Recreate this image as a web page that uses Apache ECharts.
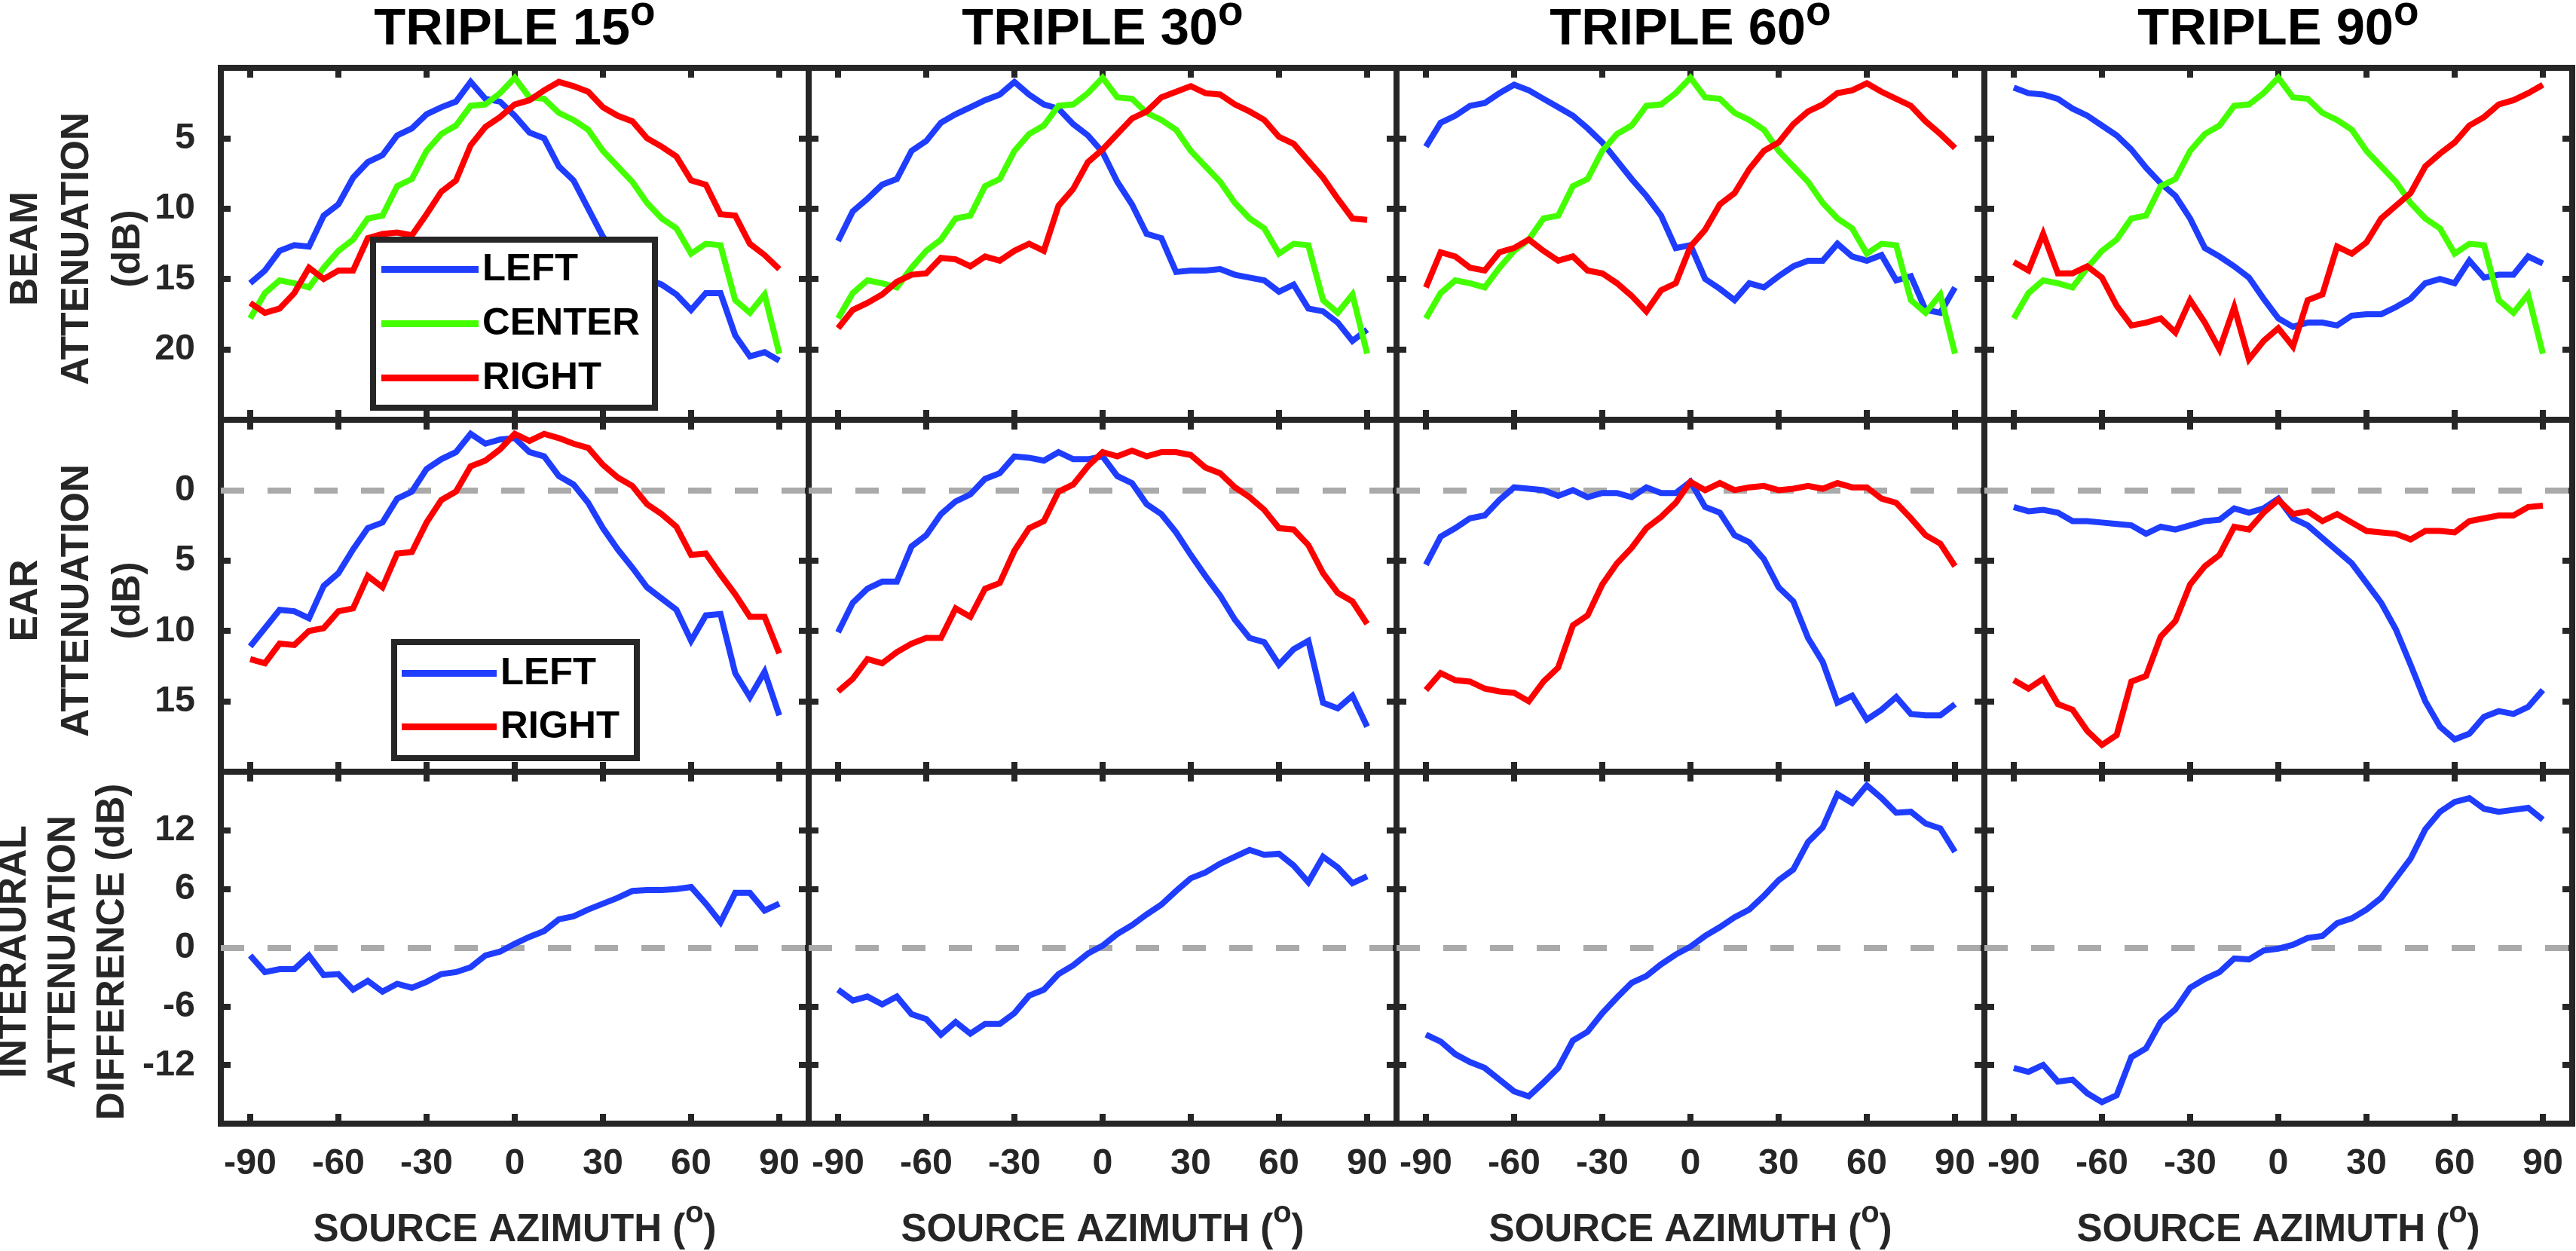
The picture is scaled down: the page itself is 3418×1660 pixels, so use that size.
<!DOCTYPE html>
<html>
<head>
<meta charset="utf-8">
<title>Triple beam attenuation</title>
<script src="https://cdn.jsdelivr.net/npm/echarts@6/dist/echarts.min.js"></script>
<style>
  html, body { margin: 0; padding: 0; background: #fff; }
  #chart { width: 3418px; height: 1660px; }
</style>
</head>
<body>
<div id="chart"></div>
<script>
// source azimuth (deg), one value every 5 deg
const azimuth = [-90, -85, -80, -75, -70, -65, -60, -55, -50, -45, -40, -35, -30, -25, -20, -15, -10, -5, 0,
  5, 10, 15, 20, 25, 30, 35, 40, 45, 50, 55, 60, 65, 70, 75, 80, 85, 90];
const azimuthTicks = [-90, -60, -30, 0, 30, 60, 90];
const beamTicks = [5, 10, 15, 20];
const earTicks = [0, 5, 10, 15];
const iadTicks = [-12, -6, 0, 6, 12];
const spacings = ['15', '30', '60', '90'];

// beam attenuation (dB), center beam is the same in every panel
const centerBeam = [17.8, 16.0, 15.1, 15.3, 15.6, 14.2, 13.0, 12.2, 10.7, 10.5, 8.4, 7.9, 5.9, 4.7, 4.1, 2.7, 2.6, 1.8, 0.7,
  2.1, 2.2, 3.2, 3.7, 4.4, 5.9, 7.0, 8.1, 9.6, 10.7, 11.4, 13.2, 12.5, 12.6, 16.5, 17.4, 16.1, 20.3];

const beamLeft15 = [15.3, 14.4, 13.0, 12.6, 12.7, 10.5, 9.7, 7.8, 6.7, 6.2, 4.8, 4.3, 3.3, 2.8, 2.4, 1.0, 2.2, 2.4, 3.4,
  4.6, 5.0, 7.0, 8.0, 10.0, 12.0, 13.2, 14.2, 15.0, 15.4, 16.1, 17.2, 16.0, 16.0, 19.0, 20.5, 20.2, 20.8];
const beamRight15 = [16.7, 17.4, 17.1, 16.0, 14.2, 15.0, 14.4, 14.4, 12.1, 11.8, 11.7, 11.9, 10.4, 8.8, 8.0, 5.5, 4.2, 3.5, 2.6,
  2.3, 1.6, 1.0, 1.3, 1.7, 2.8, 3.4, 3.8, 5.0, 5.6, 6.3, 8.0, 8.3, 10.4, 10.5, 12.5, 13.3, 14.3];
const beamLeft30 = [12.3, 10.2, 9.3, 8.3, 7.9, 5.9, 5.2, 3.9, 3.3, 2.8, 2.3, 1.9, 1.0, 1.9, 2.6, 2.9, 4.0, 4.8, 6.0,
  8.1, 9.7, 11.8, 12.1, 14.5, 14.4, 14.4, 14.3, 14.7, 14.9, 15.1, 15.9, 15.4, 17.1, 17.3, 18.1, 19.4, 18.6];
const beamRight30 = [18.5, 17.2, 16.7, 16.1, 15.2, 14.7, 14.6, 13.5, 13.6, 14.1, 13.4, 13.7, 13.0, 12.5, 13.0, 9.8, 8.6, 6.7, 5.8,
  4.7, 3.6, 3.1, 2.1, 1.7, 1.3, 1.8, 1.9, 2.6, 3.1, 3.7, 4.9, 5.4, 6.6, 7.8, 9.3, 10.7, 10.8];
const beamLeft60 = [5.6, 3.9, 3.4, 2.7, 2.5, 1.8, 1.2, 1.6, 2.2, 2.8, 3.4, 4.3, 5.3, 6.6, 7.9, 9.1, 10.5, 12.8, 12.6,
  15.0, 15.7, 16.5, 15.3, 15.6, 14.8, 14.1, 13.7, 13.7, 12.5, 13.4, 13.7, 13.3, 15.1, 14.8, 17.2, 17.4, 15.6];
const beamRight60 = [15.6, 13.1, 13.4, 14.2, 14.4, 13.1, 12.8, 12.2, 13.0, 13.7, 13.4, 14.4, 14.6, 15.3, 16.2, 17.3, 15.8, 15.3, 12.7,
  11.5, 9.7, 8.9, 7.2, 5.9, 5.3, 4.0, 3.1, 2.6, 1.8, 1.6, 1.1, 1.7, 2.2, 2.7, 3.8, 4.7, 5.7];
const beamLeft90 = [1.4, 1.8, 1.9, 2.2, 2.9, 3.4, 4.1, 4.8, 5.8, 7.1, 8.2, 9.1, 10.7, 12.8, 13.4, 14.1, 14.9, 16.4, 17.8,
  18.4, 18.1, 18.1, 18.3, 17.6, 17.5, 17.5, 17.0, 16.4, 15.3, 15.0, 15.3, 13.7, 14.9, 14.7, 14.7, 13.4, 13.9];
const beamRight90 = [13.8, 14.4, 11.8, 14.6, 14.6, 14.1, 14.9, 16.9, 18.3, 18.1, 17.8, 18.8, 16.5, 18.1, 20.0, 17.0, 20.7, 19.4, 18.5,
  19.8, 16.5, 16.1, 12.7, 13.2, 12.4, 10.7, 9.8, 8.9, 7.0, 6.1, 5.3, 4.1, 3.5, 2.6, 2.3, 1.8, 1.2];

// ear attenuation (dB)
const earLeft15 = [11.1, 9.8, 8.5, 8.6, 9.1, 6.8, 5.9, 4.2, 2.7, 2.3, 0.6, 0.1, -1.5, -2.2, -2.7, -4.0, -3.3, -3.6, -3.7,
  -2.7, -2.4, -1.0, -0.4, 0.9, 2.7, 4.2, 5.5, 6.9, 7.7, 8.5, 10.7, 8.9, 8.8, 13.0, 14.7, 12.9, 16.0];
const earRight15 = [12.0, 12.3, 10.9, 11.0, 10.0, 9.8, 8.6, 8.4, 6.1, 6.9, 4.5, 4.4, 2.3, 0.7, 0.1, -1.7, -2.1, -2.9, -4.0,
  -3.5, -4.0, -3.7, -3.3, -3.0, -1.8, -0.9, -0.3, 1.0, 1.7, 2.6, 4.6, 4.5, 6.0, 7.4, 9.0, 9.0, 11.6];
const earLeft30 = [10.1, 8.0, 7.0, 6.5, 6.5, 4.0, 3.2, 1.7, 0.8, 0.3, -0.8, -1.2, -2.4, -2.3, -2.1, -2.7, -2.2, -2.2, -2.4,
  -1.0, -0.5, 1.0, 1.7, 3.0, 4.6, 6.1, 7.5, 9.2, 10.5, 10.8, 12.4, 11.3, 10.7, 15.1, 15.5, 14.6, 16.8];
const earRight30 = [14.3, 13.4, 12.0, 12.3, 11.5, 10.9, 10.5, 10.5, 8.4, 9.0, 7.0, 6.6, 4.3, 2.7, 2.2, 0.1, -0.4, -1.7, -2.7,
  -2.4, -2.8, -2.4, -2.7, -2.7, -2.5, -1.6, -1.2, -0.2, 0.5, 1.4, 2.7, 2.8, 3.9, 5.9, 7.3, 7.9, 9.5];
const earLeft60 = [5.3, 3.3, 2.7, 2.0, 1.8, 0.7, -0.2, -0.1, 0.0, 0.4, 0.0, 0.5, 0.2, 0.2, 0.5, -0.2, 0.2, 0.2, -0.6,
  1.2, 1.6, 3.2, 3.7, 4.9, 6.9, 7.9, 10.5, 12.2, 15.1, 14.6, 16.3, 15.6, 14.7, 15.9, 16.0, 16.0, 15.2];
const earRight60 = [14.2, 13.0, 13.5, 13.6, 14.1, 14.3, 14.4, 15.0, 13.6, 12.6, 9.6, 8.9, 6.7, 5.2, 4.1, 2.7, 1.9, 0.9, -0.6,
  0.0, -0.5, 0.0, -0.2, -0.3, 0.0, -0.1, -0.3, -0.1, -0.5, -0.2, -0.2, 0.6, 0.9, 2.0, 3.2, 3.8, 5.4];
const earLeft90 = [1.2, 1.5, 1.4, 1.6, 2.2, 2.2, 2.3, 2.4, 2.5, 3.1, 2.6, 2.8, 2.5, 2.2, 2.1, 1.3, 1.6, 1.3, 0.6,
  2.0, 2.5, 3.4, 4.3, 5.2, 6.6, 8.0, 9.9, 12.4, 15.0, 16.8, 17.7, 17.3, 16.1, 15.7, 15.9, 15.4, 14.2];
const earRight90 = [13.5, 14.1, 13.4, 15.2, 15.6, 17.1, 18.1, 17.4, 13.6, 13.2, 10.4, 9.3, 6.7, 5.4, 4.6, 2.6, 2.8, 1.6, 0.7,
  1.7, 1.5, 2.2, 1.7, 2.3, 2.9, 3.0, 3.1, 3.5, 2.9, 2.9, 3.0, 2.2, 2.0, 1.8, 1.8, 1.2, 1.1];

// interaural attenuation difference (dB)
const iad15 = [-0.8, -2.5, -2.2, -2.2, -0.8, -2.8, -2.7, -4.3, -3.4, -4.5, -3.7, -4.1, -3.5, -2.7, -2.5, -2.0, -0.8, -0.4, 0.4,
  1.1, 1.7, 2.9, 3.2, 3.9, 4.5, 5.1, 5.8, 5.9, 5.9, 6.0, 6.2, 4.5, 2.6, 5.6, 5.6, 3.8, 4.5];
const iad30 = [-4.3, -5.4, -5.0, -5.8, -5.0, -6.8, -7.3, -8.9, -7.6, -8.8, -7.8, -7.8, -6.7, -4.9, -4.3, -2.7, -1.8, -0.6, 0.2,
  1.4, 2.3, 3.4, 4.4, 5.8, 7.1, 7.7, 8.6, 9.3, 10.0, 9.5, 9.6, 8.4, 6.7, 9.3, 8.2, 6.6, 7.3];
const iad60 = [-8.9, -9.6, -10.9, -11.7, -12.3, -13.5, -14.7, -15.2, -13.8, -12.3, -9.5, -8.6, -6.7, -5.1, -3.6, -2.9, -1.7, -0.7, 0.1,
  1.2, 2.1, 3.1, 3.9, 5.3, 6.9, 8.0, 10.8, 12.3, 15.7, 14.8, 16.6, 15.3, 13.8, 13.9, 12.7, 12.2, 9.8];
const iad90 = [-12.3, -12.7, -12.0, -13.7, -13.5, -14.9, -15.8, -15.1, -11.2, -10.3, -7.6, -6.3, -4.1, -3.2, -2.5, -1.1, -1.2, -0.3, -0.1,
  0.3, 1.0, 1.2, 2.5, 3.0, 3.9, 5.1, 7.1, 9.1, 12.1, 13.9, 14.9, 15.3, 14.2, 13.9, 14.1, 14.3, 13.1];

const beamLeft = [beamLeft15, beamLeft30, beamLeft60, beamLeft90];
const beamRight = [beamRight15, beamRight30, beamRight60, beamRight90];
const earLeft = [earLeft15, earLeft30, earLeft60, earLeft90];
const earRight = [earRight15, earRight30, earRight60, earRight90];
const interaural = [iad15, iad30, iad60, iad90];

const BLUE = '#1f3dff';
const GREEN = '#44ff00';
const RED = '#ff0000';
const INK = '#262626';
const FONT = "'Liberation Sans', Arial, Helvetica, sans-serif";

const colX = [293, 1073, 1853, 2633];
const rowY = [90, 557, 1024];
const panelW = 780;
const panelH = 467;

// size fonts so the printed words come out as wide as in the figure
const measure = document.createElement('canvas').getContext('2d');
function textWidth(text, size) {
  measure.font = 'bold ' + size + 'px ' + FONT;
  return measure.measureText(text).width;
}
function fitSize(text, width) {
  return Math.round(100 * width / textWidth(text, 100) * 10) / 10;
}
const tickSize = fitSize('-90', 70);
const titleSize = fitSize('TRIPLE 15', 340);
const rowNameSize = fitSize('ATTENUATION', 362);
const xNameSize = fitSize('SOURCE AZIMUTH', 463);
const legendSize = fitSize('RIGHT', 158);

const rows = [
  { min: 0, max: 25, inverse: true, ticks: beamTicks, zero: false,
    lines: c => [['LEFT', BLUE, beamLeft[c]], ['CENTER', GREEN, centerBeam], ['RIGHT', RED, beamRight[c]]] },
  { min: -5, max: 20, inverse: true, ticks: earTicks, zero: true,
    lines: c => [['LEFT', BLUE, earLeft[c]], ['RIGHT', RED, earRight[c]]] },
  { min: -18, max: 18, inverse: false, ticks: iadTicks, zero: true,
    lines: c => [['DIFFERENCE', BLUE, interaural[c]]] }
];

const labelFont = { fontFamily: FONT, fontWeight: 'bold', fontSize: tickSize, color: INK };
const axisLine = { onZero: false, lineStyle: { color: INK, width: 8, cap: 'square' } };
const tickOf = vals => ({ inside: true, length: 13, customValues: vals, lineStyle: { color: INK, width: 8 } });

const grid = [], xAxis = [], yAxis = [], series = [];

rows.forEach((row, r) => {
  for (let c = 0; c < 4; c++) {
    const g = r * 4 + c;
    grid.push({ left: colX[c], top: rowY[r], width: panelW, height: panelH, containLabel: false, outerBoundsMode: 'none' });

    xAxis.push({ type: 'value', gridIndex: g, position: 'bottom', min: -100, max: 100,
      axisLine, axisTick: tickOf(azimuthTicks), splitLine: { show: false },
      axisLabel: Object.assign({ show: r === 2, customValues: azimuthTicks, margin: 30 }, labelFont) });
    xAxis.push({ type: 'value', gridIndex: g, position: 'top', min: -100, max: 100,
      axisLine, axisTick: tickOf(azimuthTicks), splitLine: { show: false }, axisLabel: { show: false } });

    yAxis.push({ type: 'value', gridIndex: g, position: 'left', min: row.min, max: row.max, inverse: row.inverse,
      axisLine, axisTick: tickOf(row.ticks), splitLine: { show: false },
      axisLabel: Object.assign({ show: c === 0, customValues: row.ticks, margin: 34 }, labelFont) });
    yAxis.push({ type: 'value', gridIndex: g, position: 'right', min: row.min, max: row.max, inverse: row.inverse,
      axisLine, axisTick: tickOf(row.ticks), splitLine: { show: false }, axisLabel: { show: false } });

    if (row.zero) {
      series.push({
        type: 'line', name: 'zero', xAxisIndex: 2 * g, yAxisIndex: 2 * g, data: [], silent: true,
        markLine: {
          silent: true, z: 1, symbol: ['none', 'none'], label: { show: false }, animation: false,
          lineStyle: { color: '#aaaaaa', width: 8, type: [31, 31] },
          data: [{ yAxis: 0 }]
        }
      });
    }

    row.lines(c).forEach(([name, color, vals]) => {
      series.push({
        type: 'line', name, color, xAxisIndex: 2 * g, yAxisIndex: 2 * g,
        data: azimuth.map((a, i) => [a, vals[i]]),
        symbol: 'none', showSymbol: false, silent: true, z: 3,
        lineStyle: { color, width: 8, join: 'miter', miterLimit: 4 }
      });
    });
  }
});

const legendText = { fontFamily: FONT, fontWeight: 'bold', fontSize: legendSize, color: '#000', lineHeight: 48 };
const legend = [
  { data: ['LEFT', 'CENTER', 'RIGHT'], orient: 'vertical', left: 495, top: 318,
    padding: [14, 14, 14, 11], itemGap: 21, itemWidth: 129, itemHeight: 9, icon: 'rect',
    selectedMode: false, backgroundColor: '#fff', borderColor: INK, borderWidth: 8, borderRadius: 0,
    textStyle: Object.assign({ width: 215 }, legendText) },
  { data: ['LEFT', 'RIGHT'], orient: 'vertical', left: 523, top: 852,
    padding: [16, 16, 16, 10], itemGap: 20, itemWidth: 126, itemHeight: 9, icon: 'rect',
    selectedMode: false, backgroundColor: '#fff', borderColor: INK, borderWidth: 8, borderRadius: 0,
    textStyle: Object.assign({ width: 165 }, legendText) }
];

// text with a raised small "o" (degree mark) as in the figure
function withDegree(before, after, cx, capTop, oCenter, size, supSize, color) {
  const wBefore = textWidth(before, size);
  const wO = textWidth('o', supSize);
  const wAfter = after ? textWidth(after, size) : 0;
  let x = cx - (wBefore + wO + wAfter) / 2;
  const mid = capTop + 0.37 * size;
  const base = { fontFamily: FONT, fontWeight: 'bold', fill: color, align: 'left', verticalAlign: 'middle' };
  const els = [];
  els.push({ type: 'text', x, y: mid, silent: true, style: Object.assign({ text: before, fontSize: size }, base) });
  x += wBefore;
  els.push({ type: 'text', x, y: oCenter - 0.09 * supSize, silent: true, style: Object.assign({ text: 'o', fontSize: supSize }, base) });
  x += wO;
  if (after) {
    els.push({ type: 'text', x, y: mid, silent: true, style: Object.assign({ text: after, fontSize: size }, base) });
  }
  return els;
}

const graphic = [];
spacings.forEach((s, c) => {
  const cx = colX[c] + panelW / 2;
  graphic.push(...withDegree('TRIPLE ' + s, '', cx, 15, 23, titleSize, titleSize * 0.8, '#000'));
  graphic.push(...withDegree('SOURCE AZIMUTH (', ')', cx, 1614, 1615, xNameSize, xNameSize * 0.78, INK));
});

const rowNames = [
  { text: 'BEAM\nATTENUATION\n(dB)', x: 103, y: 330, lh: 68 },
  { text: 'EAR\nATTENUATION\n(dB)', x: 103, y: 797, lh: 68 },
  { text: 'INTERAURAL\nATTENUATION\nDIFFERENCE (dB)', x: 85, y: 1263, lh: 65 }
];
rowNames.forEach(n => {
  graphic.push({
    type: 'text', x: n.x, y: n.y, rotation: Math.PI / 2, silent: true,
    style: {
      text: n.text, align: 'center', verticalAlign: 'middle', lineHeight: n.lh,
      fontFamily: FONT, fontWeight: 'bold', fontSize: rowNameSize, fill: INK
    }
  });
});

const chart = echarts.init(document.getElementById('chart'), null, { renderer: 'canvas' });
chart.setOption({
  animation: false,
  backgroundColor: '#fff',
  grid, xAxis, yAxis, series, legend, graphic
});
</script>
</body>
</html>
